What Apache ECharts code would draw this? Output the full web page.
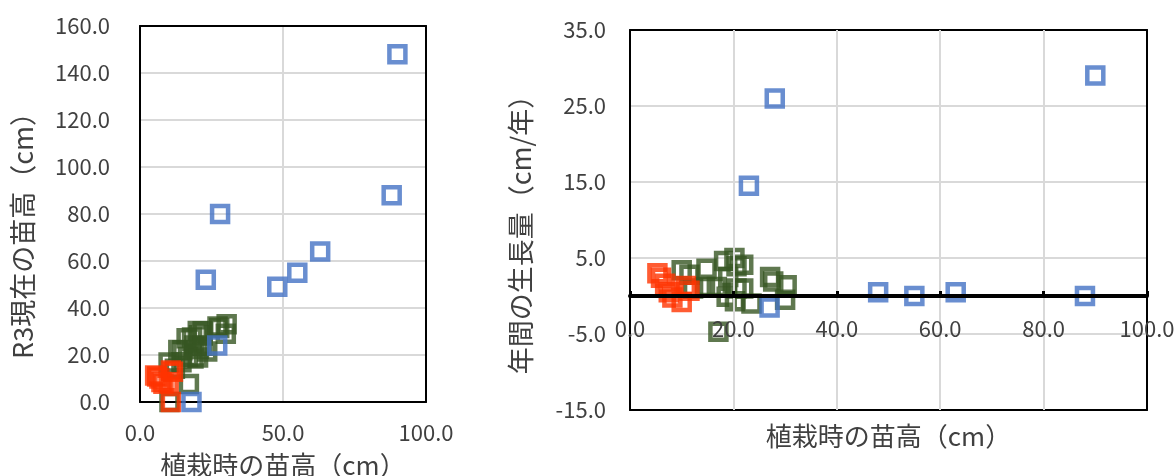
<!DOCTYPE html>
<html>
<head>
<meta charset="utf-8">
<script src="https://cdn.jsdelivr.net/npm/echarts@6/dist/echarts.min.js"></script>
<style>
html,body{margin:0;padding:0;background:#fff;}
#chart{width:1174px;height:476px;}
</style>
</head>
<body>
<div id="chart"></div>
<script>
// ---- data (initial height cm, R3 height cm) ----
const heightGreen = [[10,16.8],[12.2,14.2],[14.5,16.9],[14.8,22],[16.8,19.2],[18.2,27.4],[19,24],[18.7,18.5],[20.2,30.2],[20.6,28.4],[21.9,30.1],[20.6,22.6],[21.9,23.9],[20.3,18.9],[23.5,21.5],[27.1,32.1],[27.7,31.5],[30.3,33.1],[30,29],[17.1,7.7],[10.3,0],[13.4,22.1],[16.3,27.1]];
const heightRed = [[5.3,11.3],[6,10.8],[6.8,10],[7.5,8.5],[8.2,7.8],[10,8.4],[10.8,13.4],[11.5,12.9],[10.8,0]];
const heightBlue = [[90,148],[88,88],[28,80],[23,52],[48,49],[55,55],[63,64],[27,24],[18,0]];
// ---- data (initial height cm, annual growth cm/year) ----
const growthGreen = [[10,3.4],[12.2,1.0],[14.5,1.2],[14.8,3.6],[16.8,1.2],[18.2,4.6],[19,2.5],[18.7,-0.1],[20.2,5.0],[20.6,3.9],[21.9,4.1],[20.6,1.0],[21.9,1.0],[20.3,-0.7],[23.5,-1.0],[27.1,2.5],[27.7,1.9],[30.3,1.4],[30,-0.5],[17.1,-4.7],[11.5,2.8]];
const growthRed = [[5.3,3.0],[6,2.4],[6.8,1.6],[7.5,0.5],[8.2,-0.2],[10,-0.8],[10.8,1.3],[11.5,0.7]];
const growthBlue = [[90,29],[88,0],[28,26],[23,14.5],[48,0.5],[55,0],[63,0.5],[27,-1.5]];
// ---- axis texts ----
const xName = '植栽時の苗高（cm）';
const yNameLeft = 'R3現在の苗高（cm）';
const yNameRight = '年間の生長量（cm/年）';

const FONT = '"Noto Sans CJK JP", "Noto Sans", sans-serif';
const LABEL_COLOR = '#404040';
const fmt = v => v.toFixed(1);
const labelStyle = {fontFamily: FONT, fontSize: 22, color: LABEL_COLOR};
const nameStyle = {fontFamily: FONT, fontSize: 26, color: LABEL_COLOR};
const yNameStyle = {fontFamily: FONT, fontSize: 27, color: LABEL_COLOR};
const gridLine = {show: true, showMinLine: false, showMaxLine: false, lineStyle: {color: '#D9D9D9', width: 2}};
const frameLine = {show: true, onZero: false, lineStyle: {color: '#000', width: 2}};
const COLORS = {green: '#375623', red: '#FF3300', blue: '#4472C4'};

function sc(data, color, xi) {
  return {
    type: 'scatter', xAxisIndex: xi, yAxisIndex: xi, data: data,
    symbol: 'rect', symbolSize: 16, clip: false, z: 5,
    itemStyle: {color: 'rgba(0,0,0,0)', borderColor: color, borderWidth: 4.5},
    emphasis: {disabled: true}, silent: true, animation: false
  };
}
// frame-only axis (draws a plot-area edge)
function frameAxis(gridIndex, position, min, max) {
  return {gridIndex, type: 'value', position, min, max,
    axisLine: frameLine, axisTick: {show: false}, axisLabel: {show: false}, splitLine: {show: false}};
}

const chart = echarts.init(document.getElementById('chart'), null, {renderer: 'canvas'});
chart.setOption({
  animation: false,
  grid: [
    {left: 140, top: 26, width: 286, height: 376, containLabel: false, outerBoundsMode: 'none'},
    {left: 630, top: 30, width: 517, height: 380, containLabel: false, outerBoundsMode: 'none'}
  ],
  xAxis: [
    {gridIndex: 0, type: 'value', min: 0, max: 100, interval: 50, position: 'bottom',
     axisLine: frameLine, axisTick: {show: false}, splitLine: gridLine,
     axisLabel: Object.assign({formatter: fmt, margin: 20}, labelStyle),
     name: xName, nameLocation: 'middle', nameGap: 50, nameTextStyle: nameStyle},
    {gridIndex: 1, type: 'value', min: 0, max: 100, interval: 20, position: 'bottom', offset: -114,
     axisLine: {show: true, onZero: false, lineStyle: {color: '#000', width: 4}},
     axisTick: {show: true, inside: true, length: 5, lineStyle: {color: '#000', width: 3}},
     splitLine: gridLine, z: 6,
     axisLabel: Object.assign({formatter: fmt, margin: 22}, labelStyle),
     name: xName, nameLocation: 'middle', nameGap: 127, nameTextStyle: nameStyle},
    frameAxis(0, 'top', 0, 100),
    frameAxis(1, 'top', 0, 100),
    frameAxis(1, 'bottom', 0, 100)
  ],
  yAxis: [
    {gridIndex: 0, type: 'value', min: 0, max: 160, interval: 20, position: 'left',
     axisLine: frameLine, axisTick: {show: false}, splitLine: gridLine,
     axisLabel: Object.assign({formatter: fmt, margin: 30}, labelStyle),
     name: yNameLeft, nameLocation: 'middle', nameGap: 104, nameRotate: 90,
     nameTextStyle: Object.assign({padding: [0, 30, 0, 0]}, yNameStyle)},
    {gridIndex: 1, type: 'value', min: -15, max: 35, interval: 10, position: 'left',
     axisLine: frameLine, axisTick: {show: false}, splitLine: gridLine,
     axisLabel: Object.assign({formatter: fmt, margin: 24}, labelStyle),
     name: yNameRight, nameLocation: 'middle', nameGap: 96, nameRotate: 90,
     nameTextStyle: Object.assign({padding: [0, 16, 0, 0]}, yNameStyle)},
    frameAxis(0, 'right', 0, 160),
    frameAxis(1, 'right', -15, 35)
  ],
  series: [
    sc(heightGreen, COLORS.green, 0),
    sc(heightRed, COLORS.red, 0),
    sc(heightBlue, COLORS.blue, 0),
    sc(growthGreen, COLORS.green, 1),
    sc(growthRed, COLORS.red, 1),
    sc(growthBlue, COLORS.blue, 1)
  ]
});
</script>
</body>
</html>
